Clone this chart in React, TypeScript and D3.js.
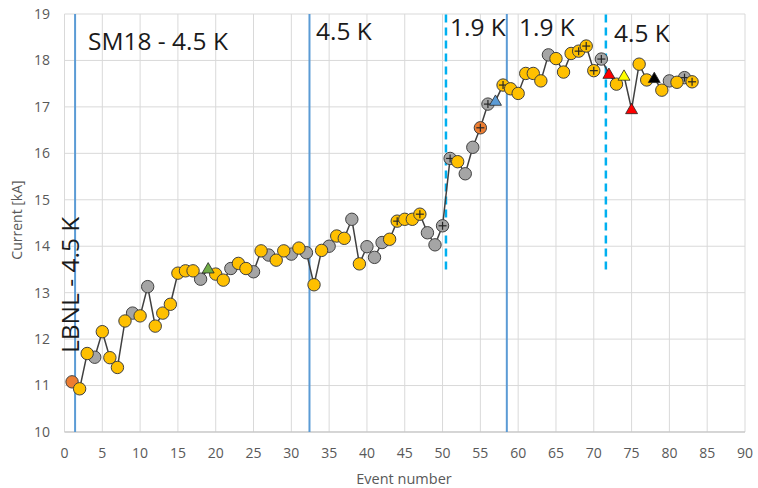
import React from "react";
import * as d3 from "d3";

// ---------- data ----------
const events = [
  1, 2, 3, 4, 5, 6, 7, 8, 9, 10, 11, 12, 13, 14, 15, 16, 17, 18, 19, 20,
  21, 22, 23, 24, 25, 26, 27, 28, 29, 30, 31, 32, 33, 34, 35, 36, 37, 38, 39, 40,
  41, 42, 43, 44, 45, 46, 47, 48, 49, 50, 51, 52, 53, 54, 55, 56, 57, 58, 59, 60,
  61, 62, 63, 64, 65, 66, 67, 68, 69, 70, 71, 72, 73, 74, 75, 76, 77, 78, 79, 80,
  81, 82, 83,
];
const currentKA = [
  11.08, 10.93, 11.69, 11.61, 12.16, 11.6, 11.39, 12.39, 12.56, 12.5,
  13.13, 12.28, 12.56, 12.75, 13.42, 13.47, 13.47, 13.29, 13.52, 13.4,
  13.27, 13.52, 13.63, 13.52, 13.45, 13.9, 13.81, 13.7, 13.9, 13.83,
  13.96, 13.86, 13.17, 13.91, 14.0, 14.22, 14.17, 14.58, 13.62, 13.99,
  13.76, 14.08, 14.15, 14.54, 14.58, 14.58, 14.69, 14.29, 14.03, 14.44,
  15.89, 15.82, 15.56, 16.13, 16.55, 17.06, 17.13, 17.47, 17.39, 17.29,
  17.72, 17.72, 17.56, 18.12, 18.04, 17.75, 18.15, 18.2, 18.31, 17.78,
  18.03, 17.71, 17.49, 17.67, 16.95, 17.92, 17.58, 17.62, 17.36, 17.56,
  17.53, 17.63, 17.54,
];
// marker kind per event: y=yellow, g=gray, o=orange circle; "+" = cross; t* = triangle
const markerKind = [
  "o", "y", "y", "g", "y", "y", "y", "y", "g", "y",
  "g", "y", "y", "y", "y", "y", "y", "g", "tG", "y",
  "y", "g", "y", "y", "g", "y", "g", "y", "y", "g",
  "y", "g", "y", "y", "g", "y", "y", "g", "y", "g",
  "g", "g", "y", "y+", "y", "y", "y+", "g", "g", "g+",
  "g+", "y", "g", "g", "o+", "g+", "tB", "y+", "y", "y",
  "y", "y", "y", "g", "y", "y", "y", "y+", "y+", "y+",
  "g+", "tR", "y", "tY", "tR", "y", "y", "tK", "y", "g",
  "y", "g+", "y+",
];
const xTicks = [0, 5, 10, 15, 20, 25, 30, 35, 40, 45, 50, 55, 60, 65, 70, 75, 80, 85, 90];
const yTicks = [10, 11, 12, 13, 14, 15, 16, 17, 18, 19];
const solidLines = [1.4, 32.4, 58.5];
const dashedLines = [50.45, 71.6];
const dashedBottom = 13.5;
const annotationTexts = ["SM18 - 4.5 K", "4.5 K", "1.9 K", "1.9 K", "4.5 K"];
const sideLabel = "LBNL - 4.5 K";

// ---------- layout ----------
const W = 758;
const H = 488;
const plot = { left: 64.5, right: 745, top: 14, bottom: 432 };
const annotationPos = [
  { x: 88, y: 50 },
  { x: 316, y: 40 },
  { x: 450, y: 36 },
  { x: 519, y: 36 },
  { x: 614, y: 42 },
];

const colors: Record<string, string> = {
  y: "#FFC000",
  g: "#A5A5A5",
  o: "#ED7D31",
  tG: "#70AD47",
  tB: "#5B9BD5",
  tR: "#FF0000",
  tY: "#FFFF00",
  tK: "#000000",
};

const FONT = "'Open Sans', 'Noto Sans', sans-serif";

export default function App() {
  const x = d3.scaleLinear().domain([0, 90]).range([plot.left, plot.right]);
  const y = d3.scaleLinear().domain([10, 19]).range([plot.bottom, plot.top]);

  const pts = events.map((e, i) => ({ e, v: currentKA[i], k: markerKind[i] }));
  const line = d3
    .line<{ e: number; v: number }>()
    .x((d) => x(d.e))
    .y((d) => y(d.v));

  const tri = d3.symbol().type(d3.symbolTriangle).size(62)();

  const order = (k: string) => {
    if (k.startsWith("g")) return 0;
    if (k.startsWith("o")) return 1;
    if (k.startsWith("y")) return 2;
    return 3;
  };
  const sorted = [...pts].sort((a, b) => order(a.k) - order(b.k) || a.e - b.e);

  const r = 6.2;

  return (
    <svg width={W} height={H} style={{ display: "block", position: "absolute", left: 0, top: 0, background: "#fff" }}>
      <rect x={0} y={0} width={W} height={H} fill="#fff" />
      {/* grid */}
      {yTicks.map((t) => (
        <line key={"gy" + t} x1={plot.left} x2={plot.right} y1={y(t)} y2={y(t)} stroke="#D9D9D9" strokeWidth={1} />
      ))}
      {xTicks.map((t) => (
        <line key={"gx" + t} x1={x(t)} x2={x(t)} y1={plot.top} y2={plot.bottom} stroke="#D9D9D9" strokeWidth={1} />
      ))}
      <line x1={plot.left} x2={plot.right} y1={plot.bottom} y2={plot.bottom} stroke="#BFBFBF" strokeWidth={1} />

      {/* reference lines */}
      {solidLines.map((e, i) => (
        <line key={"s" + i} x1={x(e)} x2={x(e)} y1={y(10)} y2={y(19)} stroke="#5B9BD5" strokeWidth={2} />
      ))}
      {dashedLines.map((e, i) => (
        <line key={"d" + i} x1={x(e)} x2={x(e)} y1={y(dashedBottom)} y2={y(19)} stroke="#00B0F0" strokeWidth={2.5} strokeDasharray="8,5" />
      ))}

      {/* tick labels */}
      {yTicks.map((t) => (
        <text key={"ty" + t} x={50} y={y(t)} dy="0.35em" textAnchor="end" fontFamily={FONT} fontSize={14} fill="#595959">
          {t}
        </text>
      ))}
      {xTicks.map((t) => (
        <text key={"tx" + t} x={x(t)} y={453.5} dy="0.35em" textAnchor="middle" fontFamily={FONT} fontSize={14} fill="#595959">
          {t}
        </text>
      ))}
      <text x={404} y={479} dy="0.35em" textAnchor="middle" fontFamily={FONT} fontSize={14.5} fill="#595959">
        Event number
      </text>
      <text transform={`translate(17,${220}) rotate(-90)`} dy="0.35em" textAnchor="middle" fontFamily={FONT} fontSize={14} fill="#595959">
        Current [kA]
      </text>

      {/* annotations */}
      {annotationTexts.map((t, i) => (
        <text key={"a" + i} x={annotationPos[i].x} y={annotationPos[i].y} fontFamily={FONT} fontSize={24.5} fill="#1A1A1A">
          {t}
        </text>
      ))}
      <text transform={`translate(79,353) rotate(-90)`} fontFamily={FONT} fontSize={24.5} fill="#1A1A1A">
        {sideLabel}
      </text>

      {/* connecting line */}
      <path d={line(pts) || ""} fill="none" stroke="#404040" strokeWidth={1.5} />

      {/* markers */}
      {sorted.map((p) => {
        const cx = x(p.e);
        const cy = y(p.v);
        if (p.k.startsWith("t")) {
          return (
            <path key={"m" + p.e} d={tri || ""} transform={`translate(${cx},${cy + 1})`} fill={colors[p.k]} stroke="#262626" strokeWidth={0.8} />
          );
        }
        const base = p.k[0];
        const plus = p.k.endsWith("+");
        return (
          <g key={"m" + p.e}>
            <circle cx={cx} cy={cy} r={r} fill={colors[base]} stroke="#404040" strokeWidth={1} />
            {plus && (
              <g stroke="#262626" strokeWidth={1.2}>
                <line x1={cx - 4} x2={cx + 4} y1={cy} y2={cy} />
                <line x1={cx} x2={cx} y1={cy - 4} y2={cy + 4} />
              </g>
            )}
          </g>
        );
      })}
    </svg>
  );
}
